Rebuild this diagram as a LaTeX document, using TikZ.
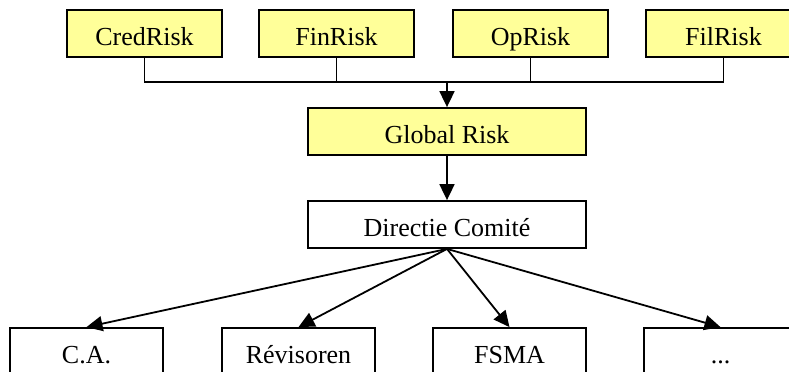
\documentclass[tikz,border=0pt]{standalone}
\usepackage{fontspec}
\setmainfont{Liberation Serif}
\usetikzlibrary{arrows.meta,positioning}

\definecolor{riskyellow}{RGB}{255,255,153}

\begin{document}
\begin{tikzpicture}[
    x=0.5pt, y=-0.5pt,
    box/.style={draw, line width=0.9pt, inner sep=0pt, font=\fontsize{13}{15}\selectfont, text height=17.5pt, text depth=6pt},
    risk/.style={box, fill=riskyellow, minimum width=77.5pt},
    wide/.style={box, minimum width=139pt},
    body/.style={box, fill=white, minimum width=76.5pt},
    link/.style={line width=0.8pt},
    arrow/.style={link, line width=0.9pt, -{Triangle[length=8pt, width=7.5pt]}}
  ]
    \useasboundingbox (0,0) rectangle (789,371);
    % risk sources
    \node[risk] (cred) at (144.5,33.5) {CredRisk};
    \node[risk, right=17.6pt of cred] (fin) {FinRisk};
    \node[risk, right=18.6pt of fin] (op) {OpRisk};
    \node[risk, right=18.1pt of op] (fil) {FilRisk};
    % central chain
    \node[wide, fill=riskyellow] (global) at (447,131.5) {Global Risk};
    \node[wide] (directie) at (447,224.5) {Directie Comit\'e};
    % reporting
    \node[body] (ca) at (86.5,351.5) {C.A.};
    \node[body, right=28.6pt of ca] (rev) {R\'evisoren};
    \node[body, right=28.1pt of rev] (fsma) {FSMA};
    \node[body, right=28.1pt of fsma] (other) {...};
    \coordinate (join) at (447,82);
    \draw[link] (cred.south) |- (join);
    \draw[link] (fil.south) |- (join);
    \draw[link] (fin.south) -- (fin.south |- join);
    \draw[link] (op.south) -- (op.south |- join);
    \draw[arrow] (join) -- (global.north);
    \draw[arrow] (global) -- (directie);
    \draw[arrow] (directie.south) -- (ca.north);
    \draw[arrow] (directie.south) -- (rev.north);
    \draw[arrow] (directie.south) -- (fsma.north);
    \draw[arrow] (directie.south) -- (other.north);
  \end{tikzpicture}
\end{document}
